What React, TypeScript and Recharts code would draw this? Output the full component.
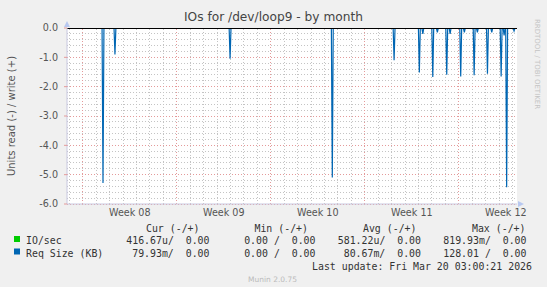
import { LineChart, Line, XAxis, YAxis, ReferenceLine } from 'recharts';

// days from the left edge of the plot; week boundaries fall at 1.17 + 7k
const spikeDays = [
  2.68, 3.57, 12.14, 19.75, 24.35, 26.23, 26.49, 27.23, 27.57, 28.27, 28.52,
  29.31, 29.58, 30.31, 30.55, 31.3, 31.62, 32.32, 32.54, 32.73, 33.28,
];
// Req Size (KB), read side (drawn negative)
const reqRead = [
  -5.28, -0.9, -1.05, -5.1, -1.1, -1.52, -0.2, -1.67, -0.15, -1.59, -0.2,
  -1.65, -0.15, -1.61, -0.15, -1.56, -0.15, -1.65, -0.25, -5.43, -0.1,
];
// IO/sec, read side (drawn negative) - tiny, hidden under the zero line
const ioRead = [
  -0.004, -0.008, -0.003, -0.004, -0.002, -0.003, -0.001, -0.003, -0.001, -0.003, -0.001,
  -0.003, -0.001, -0.003, -0.001, -0.003, -0.001, -0.003, -0.001, -0.004, -0.001,
];

const weekLabels = ['Week 08', 'Week 09', 'Week 10', 'Week 11', 'Week 12'];
const weekMid = [4.67, 11.67, 18.67, 25.67, 32.67];
const weekStart = [1.17, 8.17, 15.17, 22.17, 29.17];
const dayLines = Array.from({ length: 34 }, (_, i) => 0.17 + i);
const yMajor = [-6, -5, -4, -3, -2, -1];
const yMinor = Array.from({ length: 30 }, (_, i) => -(i + 1) * 0.2).filter(
  (v) => Math.abs(v - Math.round(v)) > 0.01
);

const legendRows = [
  { name: 'IO/sec', color: '#00cc00', cur: '416.67u/  0.00', min: '0.00 /  0.00', avg: '581.22u/  0.00', max: '819.93m/  0.00' },
  { name: 'Req Size (KB)', color: '#0066b3', cur: '79.93m/  0.00', min: '0.00 /  0.00', avg: '80.67m/  0.00', max: '128.01 /  0.00' },
];

const HW = 0.07;
const data: { day: number; req: number; io: number }[] = [{ day: 0, req: 0, io: 0 }];
spikeDays.forEach((d, i) => {
  data.push({ day: d - HW, req: 0, io: 0 });
  data.push({ day: d, req: reqRead[i], io: ioRead[i] });
  data.push({ day: d + HW, req: 0, io: 0 });
});
data.push({ day: 33.5, req: 0, io: 0 });

const mono = "'DejaVu Sans Mono', monospace";
const sans = "'DejaVu Sans', sans-serif";
const minorStroke = '#c4c4c4';
const majorStroke = '#e49a9a';
const axisStroke = '#c8c8e0';

const cell = (text: string, right: number, top: number) => (
  <div
    style={{
      position: 'absolute',
      right: 547 - right,
      top,
      fontFamily: mono,
      fontSize: 9.9,
      lineHeight: '12px',
      whiteSpace: 'pre',
      color: '#333',
    }}
  >
    {text}
  </div>
);

export default function App() {
  return (
    <div
      style={{
        position: 'absolute',
        left: 0,
        top: 0,
        width: 547,
        height: 287,
        background: '#f0f0f0',
        overflow: 'hidden',
      }}
    >
      <div
        style={{
          position: 'absolute',
          left: 67,
          top: 28,
          width: 450,
          height: 176,
          background: '#ffffff',
        }}
      />
      <div
        style={{
          position: 'absolute',
          left: 0,
          width: 547,
          top: 10,
          textAlign: 'center',
          fontFamily: sans,
          fontSize: 12.2,
          color: '#444',
        }}
      >
        IOs for /dev/loop9 - by month
      </div>
      <div
        style={{
          position: 'absolute',
          left: 11,
          top: 116,
          transform: 'translate(-50%, -50%) rotate(-90deg)',
          whiteSpace: 'nowrap',
          fontFamily: sans,
          fontSize: 10,
          color: '#555',
        }}
      >
        Units read (-) / write (+)
      </div>
      <div
        style={{
          position: 'absolute',
          left: 537,
          top: 64,
          transform: 'translate(-50%, -50%) rotate(90deg)',
          whiteSpace: 'nowrap',
          fontFamily: sans,
          fontSize: 7,
          color: '#c4c4c4',
        }}
      >
        RRDTOOL / TOBI OETIKER
      </div>

      <LineChart
        width={547}
        height={287}
        data={data}
        margin={{ top: 28, right: 30, left: 27, bottom: 63 }}
        style={{ position: 'absolute', left: 0, top: 0 }}
      >
        <XAxis
          dataKey="day"
          type="number"
          domain={[0, 33.5]}
          ticks={weekMid}
          tickFormatter={(v) => weekLabels[weekMid.indexOf(v)] ?? ''}
          tickLine={false}
          tickSize={0}
          tickMargin={5}
          height={20}
          axisLine={{ stroke: axisStroke }}
          tick={{ fontSize: 9.6, fill: '#555', fontFamily: sans }}
          allowDataOverflow
        />
        <YAxis
          type="number"
          domain={[-6, 0]}
          ticks={[-6, -5, -4, -3, -2, -1, 0]}
          tickFormatter={(v) => Number(v).toFixed(1)}
          width={40}
          tickSize={3}
          tickMargin={6}
          tickLine={{ stroke: majorStroke }}
          axisLine={{ stroke: axisStroke }}
          tick={{ fontSize: 9.6, fill: '#555', fontFamily: sans }}
          allowDataOverflow
        />
        {yMinor.map((v) => (
          <ReferenceLine
            key={`ym${v}`}
            y={v}
            stroke={minorStroke}
            strokeDasharray="1 2"
            shapeRendering="crispEdges"
          />
        ))}
        {dayLines.map((v) => (
          <ReferenceLine
            key={`xm${v}`}
            x={v}
            stroke={minorStroke}
            strokeDasharray="1 2"
            shapeRendering="crispEdges"
          />
        ))}
        {yMajor.map((v) => (
          <ReferenceLine
            key={`yM${v}`}
            y={v}
            stroke={majorStroke}
            strokeDasharray="1 2"
            shapeRendering="crispEdges"
          />
        ))}
        {weekStart.map((v) => (
          <ReferenceLine
            key={`xM${v}`}
            x={v}
            stroke={majorStroke}
            strokeDasharray="1 2"
            shapeRendering="crispEdges"
          />
        ))}
        <Line
          type="linear"
          dataKey="io"
          stroke="#00cc00"
          strokeWidth={1}
          dot={false}
          isAnimationActive={false}
        />
        <Line
          type="linear"
          dataKey="req"
          stroke="#0066b3"
          strokeWidth={1.2}
          dot={false}
          isAnimationActive={false}
        />
        <ReferenceLine y={0} stroke="#000" strokeWidth={1} shapeRendering="crispEdges" />
      </LineChart>

      <svg
        width={547}
        height={287}
        style={{ position: 'absolute', left: 0, top: 0, pointerEvents: 'none' }}
      >
        <polygon points="64,27 70,27 67,21" fill="#b8c8f0" />
        <polygon points="518,201 518,207 524,204" fill="#b8c8f0" />
        {legendRows.map((r, i) => (
          <rect key={r.name} x={14} y={236 + i * 12.5} width={6} height={6} fill={r.color} />
        ))}
      </svg>

      {cell('Cur (-/+)', 199.5, 223)}
      {cell('Min (-/+)', 308, 223)}
      {cell('Avg (-/+)', 416.5, 223)}
      {cell('Max (-/+)', 525.5, 223)}
      {legendRows.map((r, i) => {
        const top = 235 + i * 12.5;
        return (
          <div key={r.name}>
            <div
              style={{
                position: 'absolute',
                left: 26,
                top,
                fontFamily: mono,
                fontSize: 9.9,
                lineHeight: '12px',
                whiteSpace: 'pre',
                color: '#333',
              }}
            >
              {r.name}
            </div>
            {cell(r.cur, 209.5, top)}
            {cell(r.min, 315.5, top)}
            {cell(r.avg, 421, top)}
            {cell(r.max, 526.5, top)}
          </div>
        );
      })}
      {cell('Last update: Fri Mar 20 03:00:21 2026', 532, 260.5)}
      <div
        style={{
          position: 'absolute',
          left: 0,
          width: 545,
          top: 275,
          textAlign: 'center',
          fontFamily: sans,
          fontSize: 7.5,
          color: '#bbb',
        }}
      >
        Munin 2.0.75
      </div>
    </div>
  );
}
